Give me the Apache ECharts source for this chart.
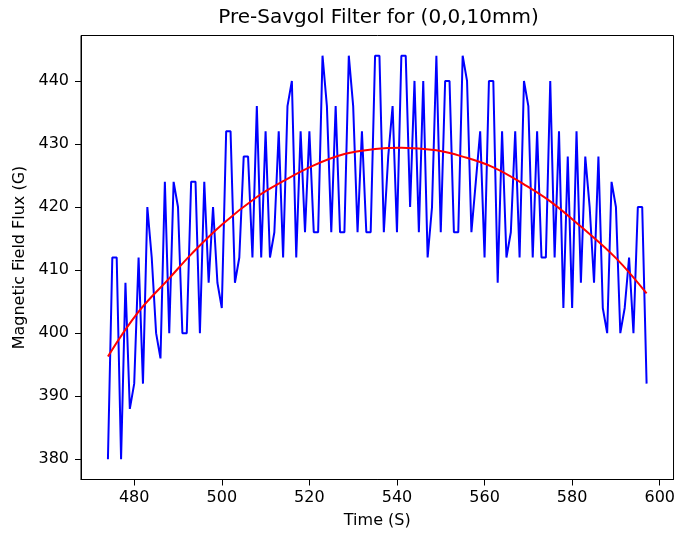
<!DOCTYPE html>
<html>
<head>
<meta charset="utf-8">
<script src="https://cdn.jsdelivr.net/npm/echarts@6/dist/echarts.min.js"></script>
<style>
html,body{margin:0;padding:0;background:#fff;}
#chart{width:678px;height:536px;}
</style>
</head>
<body>
<div id="chart"></div>
<script>
const titleText = 'Pre-Savgol Filter for (0,0,10mm)';
const xName = 'Time (S)';
const yName = 'Magnetic Field Flux (G)';
const xTicks = [480, 500, 520, 540, 560, 580, 600];
const yTicks = [380, 390, 400, 410, 420, 430, 440];

const times = [474,475,476,477,478,479,480,481,482,483,484,485,486,487,488,489,490,491,492,493,
  494,495,496,497,498,499,500,501,502,503,504,505,506,507,508,509,510,511,512,513,
  514,515,516,517,518,519,520,521,522,523,524,525,526,527,528,529,530,531,532,533,
  534,535,536,537,538,539,540,541,542,543,544,545,546,547,548,549,550,551,552,553,
  554,555,556,557,558,559,560,561,562,563,564,565,566,567,568,569,570,571,572,573,
  574,575,576,577,578,579,580,581,582,583,584,585,586,587,588,589,590,591,592,593,
  594,595,596,597];
const flux = [380,412,412,380,408,388,392,412,392,420,412,400,396,424,400,424,420,400,400,424,
  424,400,424,408,420,408,404,432,432,408,412,428,428,412,436,412,432,412,416,432,
  412,436,440,412,432,416,432,416,416,444,436,416,436,416,416,444,436,416,432,416,
  416,444,444,416,428,436,416,444,444,420,440,416,440,412,420,444,416,440,440,416,
  416,444,440,416,424,432,412,440,440,408,432,412,416,432,412,440,436,412,432,412,
  412,440,412,432,404,428,404,432,408,428,420,408,428,404,400,424,420,400,404,412,
  400,420,420,392];

const fitTimes = [474,481,488,493,500,508,514,521,528,535,541,549,555,562,569,575,582,590,597];
const fitFlux = [396.3,403.4,408.7,412.5,417.2,421.6,424.1,426.6,428.4,429.2,429.4,429.0,428.0,426.3,423.6,420.9,416.9,411.9,406.3];

const chart = echarts.init(document.getElementById('chart'), null, {renderer: 'canvas'});
const font = 'DejaVu Sans';
chart.setOption({
  animation: false,
  backgroundColor: '#ffffff',
  graphic: [{
    type: 'text', x: 378.5, y: 17.5,
    style: {text: titleText, fontFamily: font, fontSize: 20, fill: '#000',
            textAlign: 'center', textVerticalAlign: 'middle'}
  }],
  grid: {left: 81, right: 2, top: 35.5, bottom: 56.5, show: true,
         borderColor: '#000', borderWidth: 1, backgroundColor: 'transparent'},
  xAxis: {
    type: 'value', min: 467.85, max: 603.15,
    name: xName, nameLocation: 'middle', nameGap: 33,
    nameTextStyle: {fontFamily: font, fontSize: 16, color: '#000'},
    axisLine: {show: true, onZero: false, lineStyle: {color: '#000', width: 1}},
    axisTick: {show: true, inside: false, length: 6, customValues: xTicks, lineStyle: {color: '#000'}},
    axisLabel: {customValues: xTicks, margin: 10, fontFamily: font, fontSize: 16, color: '#000'},
    splitLine: {show: false}
  },
  yAxis: {
    type: 'value', min: 376.8, max: 447.2,
    name: yName, nameLocation: 'middle', nameGap: 53, nameRotate: 90,
    nameTextStyle: {fontFamily: font, fontSize: 16, color: '#000'},
    axisLine: {show: true, onZero: false, lineStyle: {color: '#000', width: 1}},
    axisTick: {show: true, inside: false, length: 6, customValues: yTicks, lineStyle: {color: '#000'}},
    axisLabel: {customValues: yTicks, margin: 12, fontFamily: font, fontSize: 16, color: '#000'},
    splitLine: {show: false}
  },
  series: [
    {type: 'line', data: times.map((t, i) => [t, flux[i]]), showSymbol: false,
     lineStyle: {color: '#0000ff', width: 2}, itemStyle: {color: '#0000ff'}},
    {type: 'line', data: fitTimes.map((t, i) => [t, fitFlux[i]]), showSymbol: false,
     smooth: 0.4, lineStyle: {color: '#ff0000', width: 2}, itemStyle: {color: '#ff0000'}}
  ]
});
</script>
</body>
</html>
